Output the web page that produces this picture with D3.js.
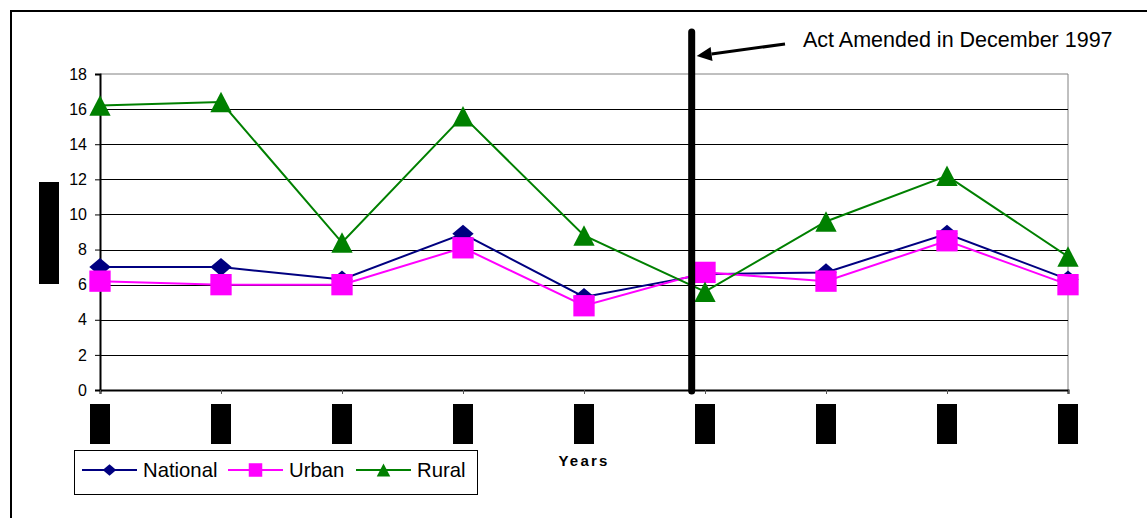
<!DOCTYPE html>
<html>
<head>
<meta charset="utf-8">
<script src="https://cdn.jsdelivr.net/npm/d3@7"></script>
<style>
  html, body { margin: 0; padding: 0; background: #fff; }
  svg { display: block; font-family: "Liberation Sans", Arial, sans-serif; }
</style>
</head>
<body>
<svg id="chart" width="1147" height="518"></svg>
<script>
// Survey years (labels are blacked out on the axis)
const categories = ["1993", "1994", "1995", "1996", "1997", "1998", "1999", "2000", "2001"];
const national = [7.0, 7.0, 6.3, 8.9, 5.3, 6.6, 6.7, 8.9, 6.3];
const urban    = [6.2, 6.0, 6.0, 8.1, 4.8, 6.7, 6.2, 8.5, 6.0];
const rural    = [16.2, 16.4, 8.4, 15.6, 8.8, 5.6, 9.6, 12.2, 7.6];
const yTicks   = [0, 2, 4, 6, 8, 10, 12, 14, 16, 18];
const seriesNames = ["National", "Urban", "Rural"];
const amendmentNote = "Act Amended in December 1997";
const amendmentPosition = 4.89; // in category units: just before the 1998 point

const svg = d3.select("#chart");
const W = 1147, H = 518;
const plot = { left: 100, right: 1068, top: 74, bottom: 390 };

const x = d3.scalePoint().domain(categories).range([plot.left, plot.right]).padding(0);
const xIdx = d3.scaleLinear().domain([0, categories.length - 1]).range([plot.left, plot.right]);
const y = d3.scaleLinear().domain([0, 18]).range([plot.bottom, plot.top]);

// outer frame
svg.append("path")
  .attr("d", `M11,${H + 2} L11,11 L${W + 2},11`)
  .attr("fill", "none").attr("stroke", "#000").attr("stroke-width", 2);

// plot border (top / right)
svg.append("path")
  .attr("d", `M${plot.left},${plot.top} L${plot.right},${plot.top} L${plot.right},${plot.bottom}`)
  .attr("fill", "none").attr("stroke", "#808080").attr("stroke-width", 1);

// horizontal gridlines
svg.append("g").selectAll("line")
  .data(yTicks.filter(v => v > 0 && v < 18))
  .join("line")
  .attr("x1", plot.left).attr("x2", plot.right)
  .attr("y1", d => Math.round(y(d)) + 0.5).attr("y2", d => Math.round(y(d)) + 0.5)
  .attr("stroke", "#000").attr("stroke-width", 1);

// y axis
const yAxis = svg.append("g")
  .attr("transform", `translate(${plot.left},0)`)
  .call(d3.axisLeft(y).tickValues(yTicks).tickSize(5).tickPadding(8).tickFormat(d3.format("d")));
yAxis.select(".domain").attr("stroke", "#000").attr("stroke-width", 2);
yAxis.selectAll(".tick line").attr("stroke", "#000");
yAxis.selectAll(".tick text")
  .attr("font-size", 16).attr("fill", "#000")
  .attr("font-family", "'Liberation Sans', Arial, sans-serif");

// x axis
const xAxis = svg.append("g")
  .attr("transform", `translate(0,${plot.bottom})`)
  .call(d3.axisBottom(x).tickSize(4).tickFormat(""));
xAxis.select(".domain").attr("stroke", "#000").attr("stroke-width", 2);
xAxis.selectAll(".tick line").attr("stroke", "#555");

// redacted year labels
svg.append("g").selectAll("rect")
  .data(categories)
  .join("rect")
  .attr("x", d => x(d) - 10).attr("y", 404)
  .attr("width", 20).attr("height", 40)
  .attr("fill", "#000");

// redacted y-axis title
svg.append("rect").attr("x", 39).attr("y", 182).attr("width", 20).attr("height", 102).attr("fill", "#000");

// x-axis title
svg.append("text")
  .attr("x", 584).attr("y", 466)
  .attr("text-anchor", "middle")
  .attr("font-size", 15).attr("font-weight", "bold")
  .attr("letter-spacing", 2.2)
  .text("Years");

// marker shapes
function markerPath(shape, s) {
  const p = d3.path();
  if (shape === "diamond") {
    const w = s * 0.52, h = s * 0.44;
    p.moveTo(0, -h); p.lineTo(w, 0); p.lineTo(0, h); p.lineTo(-w, 0); p.closePath();
  } else if (shape === "square") {
    const h = s * 0.52;
    p.rect(-h, -h, 2 * h, 2 * h);
  } else {
    const w = s * 0.52, h = s * 0.5;
    p.moveTo(0, -h); p.lineTo(w, h); p.lineTo(-w, h); p.closePath();
  }
  return p.toString();
}

const series = [
  { name: seriesNames[0], values: national, color: "#000080", shape: "diamond" },
  { name: seriesNames[1], values: urban,    color: "#FF00FF", shape: "square" },
  { name: seriesNames[2], values: rural,    color: "#008000", shape: "triangle" }
];

const line = d3.line().x((d, i) => x(categories[i])).y(d => y(d));

series.forEach(s => {
  const g = svg.append("g");
  g.append("path")
    .attr("d", line(s.values))
    .attr("fill", "none").attr("stroke", s.color).attr("stroke-width", 2);
  g.selectAll("path.m")
    .data(s.values)
    .join("path")
    .attr("class", "m")
    .attr("transform", (d, i) => `translate(${x(categories[i])},${y(d)})`)
    .attr("d", markerPath(s.shape, 20.5))
    .attr("fill", s.color);
});

// amendment marker line
const ax = xIdx(amendmentPosition);
svg.append("line")
  .attr("x1", ax).attr("x2", ax)
  .attr("y1", 32).attr("y2", plot.bottom + 1)
  .attr("stroke", "#000").attr("stroke-width", 7).attr("stroke-linecap", "round");

// annotation arrow
const tail = [785, 44], tip = [ax + 5, 56];
const ang = Math.atan2(tip[1] - tail[1], tip[0] - tail[0]);
const hl = 15, hw = 7;
const bx = tip[0] - hl * Math.cos(ang), by = tip[1] - hl * Math.sin(ang);
svg.append("line")
  .attr("x1", tail[0]).attr("y1", tail[1]).attr("x2", bx).attr("y2", by)
  .attr("stroke", "#000").attr("stroke-width", 3);
svg.append("path")
  .attr("d", `M${tip[0]},${tip[1]} L${bx - hw * Math.sin(ang)},${by + hw * Math.cos(ang)} L${bx + hw * Math.sin(ang)},${by - hw * Math.cos(ang)} Z`)
  .attr("fill", "#000");

svg.append("text")
  .attr("x", 803).attr("y", 47)
  .attr("font-size", 21.5).attr("fill", "#000")
  .text(amendmentNote);

// legend
const legend = svg.append("g");
legend.append("rect")
  .attr("x", 74.5).attr("y", 450.5).attr("width", 403).attr("height", 44)
  .attr("fill", "#fff").attr("stroke", "#000").attr("stroke-width", 1);
const legendX = [82, 228, 356];
series.forEach((s, i) => {
  const lx = legendX[i];
  legend.append("line")
    .attr("x1", lx).attr("x2", lx + 55).attr("y1", 470).attr("y2", 470)
    .attr("stroke", s.color).attr("stroke-width", 2);
  legend.append("path")
    .attr("transform", `translate(${lx + 27.5},470)`)
    .attr("d", markerPath(s.shape, 13))
    .attr("fill", s.color);
  legend.append("text")
    .attr("x", lx + 61).attr("y", 477)
    .attr("font-size", 20.3).attr("fill", "#000")
    .text(s.name);
});
</script>
</body>
</html>
